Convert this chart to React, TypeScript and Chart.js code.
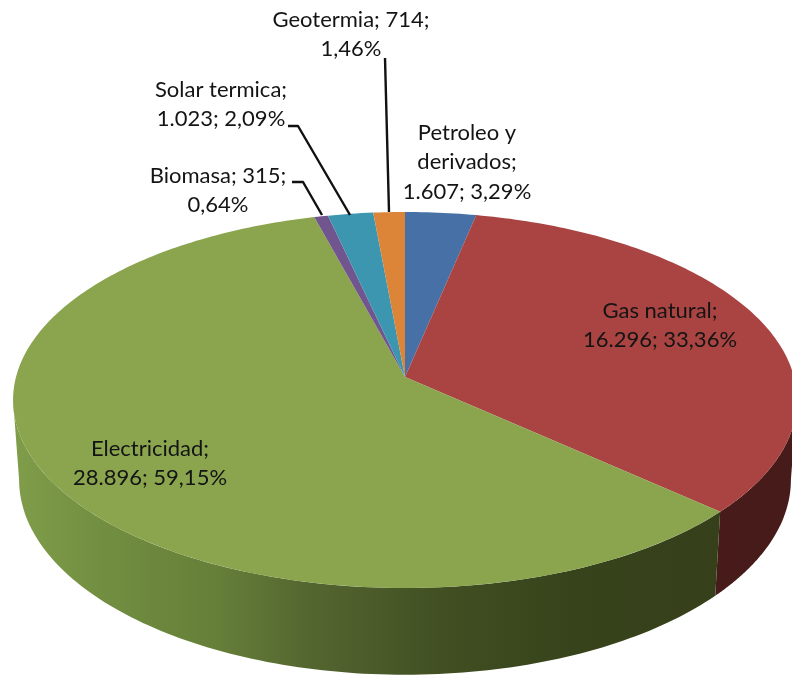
import React, { useEffect, useRef } from "react";
import { Chart, registerables } from "chart.js";

Chart.register(...registerables);

const categories = ["Petroleo y derivados", "Gas natural", "Electricidad", "Biomasa", "Solar termica", "Geotermia"];
const values = [1607, 16296, 28896, 315, 1023, 714];
const valueLabels = ["1.607", "16.296", "28.896", "315", "1.023", "714"];
const percentLabels = ["3,29%", "33,36%", "59,15%", "0,64%", "2,09%", "1,46%"];
const colors = ["#4670A6", "#A94442", "#8AA54E", "#71558F", "#3D96AF", "#DC8438"];

const labelLines = [
  ["Petroleo y", "derivados;", `${valueLabels[0]}; ${percentLabels[0]}`],
  [`${categories[1]};`, `${valueLabels[1]}; ${percentLabels[1]}`],
  [`${categories[2]};`, `${valueLabels[2]}; ${percentLabels[2]}`],
  [`${categories[3]}; ${valueLabels[3]};`, percentLabels[3]],
  [`${categories[4]};`, `${valueLabels[4]}; ${percentLabels[4]}`],
  [`${categories[5]}; ${valueLabels[5]};`, percentLabels[5]],
];

const labelPositions = [
  { x: 467, y: 133 },
  { x: 660, y: 311 },
  { x: 150, y: 449 },
  { x: 218, y: 176 },
  { x: 221, y: 90 },
  { x: 351, y: 20 },
];

const leaders = [
  [[385, 58], [389, 212]],
  [[288, 126], [298, 126], [350, 215]],
  [[292, 182], [303, 182], [322, 215]],
];

const top = { cx: 405, cy: 377, rx: 389, ry: 185.2, k: 0.1223 };
const bottom = { cx: 405, cy: 456, rx: 383, ry: 192, k: 0.1223 };
const visibleFrom = (97 * Math.PI) / 180;
const visibleTo = (263 * Math.PI) / 180;

const wallStops: Record<number, [number, string][]> = {
  1: [[0, "#4a1c1a"], [1, "#471b19"]],
  2: [
    [0, "#7f9d49"],
    [0.13, "#708d40"],
    [0.26, "#667f39"],
    [0.38, "#546630"],
    [0.55, "#414f22"],
    [0.72, "#37431b"],
    [1, "#353f1b"],
  ],
};

function project(p: typeof top, theta: number): [number, number] {
  const u = Math.sin(theta);
  const v = -Math.cos(theta);
  const w = 1 - p.k * v;
  return [p.cx + (p.rx * u) / w, p.cy + (p.ry * v) / w];
}

const perspectivePie = {
  id: "perspectivePie",
  beforeDatasetDraw() {
    return false;
  },
  afterDatasetsDraw(chart: any) {
    const ctx: CanvasRenderingContext2D = chart.ctx;
    const arcs = chart.getDatasetMeta(0).data;
    const spans = arcs.map((a: any) => [a.startAngle + Math.PI / 2, a.endAngle + Math.PI / 2]);
    ctx.save();

    // side wall
    spans.forEach(([a, b]: number[], i: number) => {
      const from = Math.max(a, visibleFrom);
      const to = Math.min(b, visibleTo);
      if (to <= from) return;
      const stops = wallStops[i];
      if (!stops) return;
      const g = ctx.createLinearGradient(13, 0, 792, 0);
      stops.forEach(([o, c]) => g.addColorStop(o, c));
      const n = 120;
      ctx.beginPath();
      for (let s = 0; s <= n; s++) {
        const [x, y] = project(top, from + ((to - from) * s) / n);
        s ? ctx.lineTo(x, y) : ctx.moveTo(x, y);
      }
      for (let s = n; s >= 0; s--) {
        const [x, y] = project(bottom, from + ((to - from) * s) / n);
        ctx.lineTo(x, y);
      }
      ctx.closePath();
      ctx.fillStyle = g;
      ctx.fill();
    });

    // top face
    spans.forEach(([a, b]: number[], i: number) => {
      const n = Math.max(4, Math.ceil((b - a) * 60));
      ctx.beginPath();
      ctx.moveTo(top.cx, top.cy);
      for (let s = 0; s <= n; s++) {
        const [x, y] = project(top, a + ((b - a) * s) / n);
        ctx.lineTo(x, y);
      }
      ctx.closePath();
      ctx.fillStyle = colors[i];
      ctx.fill();
    });

    // leader lines
    ctx.strokeStyle = "#111";
    ctx.lineWidth = 2.4;
    ctx.lineJoin = "round";
    leaders.forEach((pts) => {
      ctx.beginPath();
      pts.forEach(([x, y], j) => (j ? ctx.lineTo(x, y) : ctx.moveTo(x, y)));
      ctx.stroke();
    });

    // data labels
    ctx.fillStyle = "#141414";
    ctx.font = '22px Lato, "Open Sans", sans-serif';
    ctx.textAlign = "center";
    ctx.textBaseline = "middle";
    labelLines.forEach((lines, i) => {
      lines.forEach((line, j) => {
        ctx.fillText(line, labelPositions[i].x, labelPositions[i].y + j * 29.3);
      });
    });
    ctx.restore();
  },
};

export default function App() {
  const ref = useRef<HTMLCanvasElement>(null);
  useEffect(() => {
    document.body.style.margin = "0";
    const chart = new Chart(ref.current!, {
      type: "pie",
      data: {
        labels: categories,
        datasets: [{ data: values, backgroundColor: colors, borderWidth: 0 }],
      },
      options: {
        responsive: false,
        animation: false,
        plugins: { legend: { display: false }, tooltip: { enabled: false } },
      },
      plugins: [perspectivePie],
    } as any);
    return () => chart.destroy();
  }, []);
  return (
    <canvas
      ref={ref}
      width={792}
      height={677}
      style={{ display: "block", position: "absolute", left: 0, top: 0, background: "#fff" }}
    />
  );
}
